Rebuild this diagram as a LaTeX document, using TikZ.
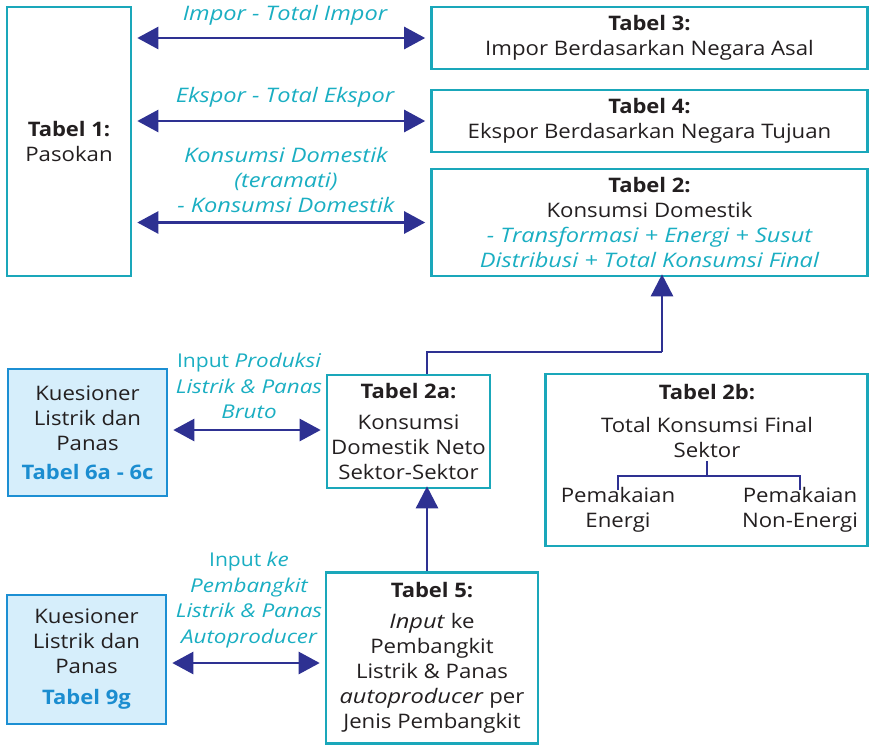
\documentclass[tikz,border=0pt]{standalone}
\usepackage{fontspec}
\setmainfont[FakeStretch=1.11, ItalicFeatures={FakeStretch=1.18}, BoldFeatures={FakeStretch=1.1}]{Open Sans}
\usetikzlibrary{arrows.meta}
\definecolor{tealb}{HTML}{1AA7BA}
\definecolor{cyant}{HTML}{1AAEC2}
\definecolor{navy}{HTML}{2E3192}
\definecolor{qblue}{HTML}{1C8FD3}
\definecolor{qfill}{HTML}{D6EEFB}
\definecolor{qtext}{HTML}{1B8DD0}
\definecolor{ink}{HTML}{231F20}
\newcommand\bodyf{\fontsize{20}{25}\selectfont}
\newcommand\smallit{\fontsize{19}{25.5}\selectfont}
\begin{document}
\begin{tikzpicture}[x=1pt,y=-1pt,
  box/.style={draw=tealb, line width=2.6pt, inner sep=0pt, align=center, font=\bodyf, text=ink},
  qbox/.style={draw=qblue, fill=qfill, line width=2.6pt, inner sep=0pt, align=center, font=\bodyf, text=ink},
  lbl/.style={text=cyant, font=\bodyf\itshape, align=center, inner sep=0pt},
  txt/.style={text=ink, font=\bodyf, align=center, inner sep=0pt},
  arr/.style={draw=navy, line width=2.6pt, {Triangle[length=21pt,width=22pt]}-{Triangle[length=21pt,width=22pt]}, shorten <=5pt, shorten >=5pt},
  uarr/.style={draw=navy, line width=2.6pt, -{Triangle[length=22pt,width=22pt]}},
  brk/.style={draw=navy, line width=2.4pt}]
\useasboundingbox (0,0) rectangle (870,745);
% boxes
\node[box, minimum width=124pt, minimum height=269pt] (t1) at (69,141.5) {\textbf{Tabel 1:}\\Pasokan};
\node[box, minimum width=436pt, minimum height=62pt] (t3) at (649.5,38) {\textbf{Tabel 3:}\\Impor Berdasarkan Negara Asal};
\node[box, minimum width=436pt, minimum height=62pt] (t4) at (649.5,121) {\textbf{Tabel 4:}\\Ekspor Berdasarkan Negara Tujuan};
\node[box, minimum width=436pt, minimum height=107pt] (t2) at (649.5,222.5) {\textbf{Tabel 2:}\\Konsumsi Domestik\\\textcolor{cyant}{\itshape - Transformasi + Energi + Susut}\\\textcolor{cyant}{\itshape Distribusi + Total Konsumsi Final}};
\node[qbox, minimum width=159pt, minimum height=127pt] (k1) at (87.5,432.5) {Kuesioner\\Listrik dan\\Panas\\[4pt]\textcolor{qtext}{\bfseries Tabel 6a - 6c}};
\node[box, minimum width=163pt, minimum height=113pt] (t2a) at (408.5,431.5) {\textbf{Tabel 2a:}\\[6pt]Konsumsi\\Domestik Neto\\Sektor-Sektor};
\node[box, minimum width=322pt, minimum height=172pt] (t2b) at (706.5,460) {};
\node[qbox, minimum width=159pt, minimum height=129pt] (k2) at (86.5,659.5) {Kuesioner\\Listrik dan\\Panas\\[6pt]\textcolor{qtext}{\bfseries Tabel 9g}};
\node[box, minimum width=212pt, minimum height=171pt] (t5) at (432,658) {\textbf{Tabel 5:}\\[6pt]\textit{Input} ke\\Pembangkit\\Listrik \& Panas\\\textit{autoproducer} per\\Jenis Pembangkit};
% Tabel 2b internals
\node[txt] (t2bh) at (707,392) {\textbf{Tabel 2b:}};
\node[txt] (tk) at (707,437) {Total Konsumsi Final\\Sektor};
\node[txt] (pe) at (618,510) {Pemakaian\\Energi};
\node[txt] (pn) at (800,510) {Pemakaian\\Non-Energi};
\coordinate (bj) at (707,476);
\draw[brk] (tk.south) ++(0,4) -- (bj);
\draw[brk] (bj) -| ([yshift=-3pt]pe.north);
\draw[brk] (bj) -| ([yshift=-3pt]pn.north);
% labels
\node[lbl] (l1) at (285,15) {Impor - Total Impor};
\node[lbl] (l2) at (285,97) {Ekspor - Total Ekspor};
\node[lbl] (l3) at (286,180) {Konsumsi Domestik\\(teramati)\\- Konsumsi Domestik};
\node[lbl, font=\smallit\itshape] (l4) at (249,386) {\upshape Input \itshape Produksi\\Listrik \& Panas\\Bruto};
\node[lbl, font=\smallit\itshape] (l5) at (249,600) {\upshape Input \itshape ke\\Pembangkit\\Listrik \& Panas\\Autoproducer};
% arrows
\draw[arr] (t1.east |- t3.west) -- (t3.west);
\draw[arr] (t1.east |- t4.west) -- (t4.west);
\draw[arr] (t1.east |- t2.west) -- (t2.west);
\coordinate (ya) at (0,430);
\coordinate (yb) at (0,663);
\draw[arr] (k1.east |- ya) -- (t2a.west |- ya);
\draw[arr] (k2.east |- yb) -- (t5.west |- yb);
\coordinate (xa) at (427,0);
\coordinate (jn) at (662,352);
\draw[uarr] (t5.north -| xa) -- ([yshift=3pt]t2a.south -| xa);
\draw[brk] (t2a.north -| xa) |- (jn);
\draw[uarr] (jn) -- ([yshift=3pt]t2.south -| jn);
\end{tikzpicture}
\end{document}
